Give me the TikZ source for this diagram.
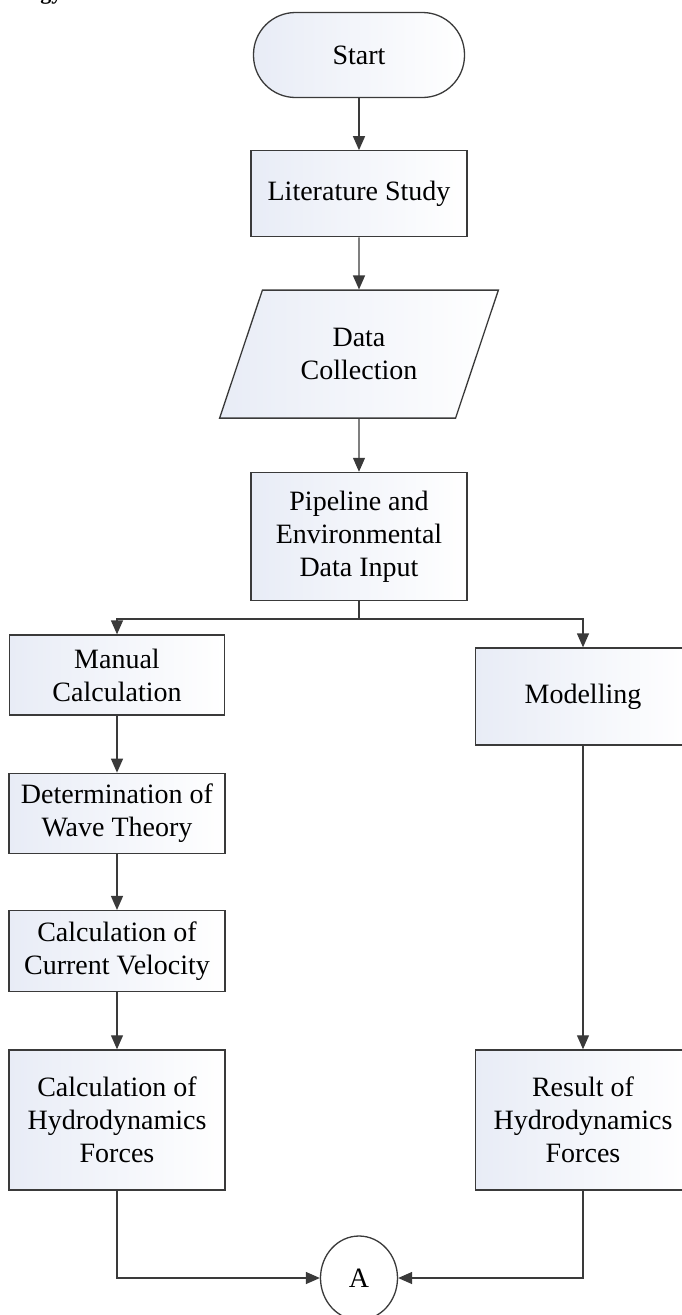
\documentclass[tikz,border=0pt]{standalone}
\usepackage{fontspec}
\setmainfont{Liberation Serif}
\usepackage{xcolor}
\usepackage{tikz}
\usetikzlibrary{
    shapes.geometric,
    arrows.meta,
    positioning,
    calc
}
\definecolor{flowline}{HTML}{3A3A3A}
\definecolor{flowtint}{HTML}{E8ECF6}
\tikzset{
    % Process box
    procbox/.style={
        rectangle,
        draw=flowline,
        line width=1.3pt,
        left color=flowtint,
        right color=white,
        font=\fontsize{28}{33}\selectfont,
        minimum width=216pt,
        align=center,
        inner sep=0pt
    },
    % Terminal
    termbox/.style={
        procbox,
        rounded corners=42pt,
        minimum width=211pt,
        minimum height=85pt
    },
    % Input/output
    iobox/.style={
        trapezium,
        trapezium left angle=63.4,
        trapezium right angle=116.6,
        trapezium stretches=true,
        draw=flowline,
        line width=1.3pt,
        left color=flowtint,
        right color=white,
        font=\fontsize{28}{33}\selectfont,
        minimum width=279pt,
        minimum height=128pt,
        align=center,
        inner sep=0pt
    },
    % Off-page connector
    connector/.style={
        ellipse,
        draw=flowline,
        line width=1.3pt,
        fill=white,
        font=\fontsize{28}{33}\selectfont,
        minimum width=77pt,
        minimum height=84pt,
        inner sep=0pt
    },
    % Arrow style
    flowarrow/.style={
        -{Triangle[length=14pt,width=12pt]},
        line width=1.3pt,
        color=flowline
    }
}
\begin{document}
\begin{tikzpicture}[x=1pt,y=1pt]
    \useasboundingbox (0,0) rectangle (682,-1315);
    \node[font=\fontsize{22}{26}\selectfont\bfseries, anchor=base east] (head) at (66,1) {gy};

    \node[termbox] (start) at (359,-55) {Start};
    \node[procbox, minimum height=86pt, below=52pt of start] (lit) {Literature Study};
    \node[iobox, below=52pt of lit] (data) {Data\\Collection};
    \node[procbox, minimum height=128pt, below=53pt of data] (pipe) {Pipeline and\\Environmental\\Data Input};

    \node[procbox, minimum width=215pt, minimum height=80pt] (manual) at (117,-675) {Manual\\Calculation};
    \node[procbox, minimum width=216pt, minimum height=80pt, below=57pt of manual] (wave) {Determination of\\Wave Theory};
    \node[procbox, minimum width=216pt, minimum height=81pt, below=56pt of wave] (current) {Calculation of\\Current Velocity};
    \node[procbox, minimum width=216pt, minimum height=140pt, below=57pt of current] (hydro) {Calculation of\\Hydrodynamics\\Forces};

    \node[procbox, minimum width=215pt, minimum height=97pt] (model) at (583,-696.5) {Modelling};
    \node[procbox, minimum width=215pt, minimum height=140pt] (result) at (model |- hydro) {Result of\\Hydrodynamics\\Forces};

    \node[connector] (conA) at (359,-1278) {A};

    \draw[flowarrow] (start) -- (lit);
    \draw[flowarrow] (lit) -- (data);
    \draw[flowarrow] (data) -- (pipe);
    \draw[flowarrow] (pipe.south) -- ++(0,-18) -| (manual.north);
    \draw[flowarrow] (pipe.south) -- ++(0,-18) -| (model.north);
    \draw[flowarrow] (manual) -- (wave);
    \draw[flowarrow] (wave) -- (current);
    \draw[flowarrow] (current) -- (hydro);
    \draw[flowarrow] (model) -- (result);
    \draw[flowarrow] (hydro.south) |- (conA.west);
    \draw[flowarrow] (result.south) |- (conA.east);
\end{tikzpicture}
\end{document}
